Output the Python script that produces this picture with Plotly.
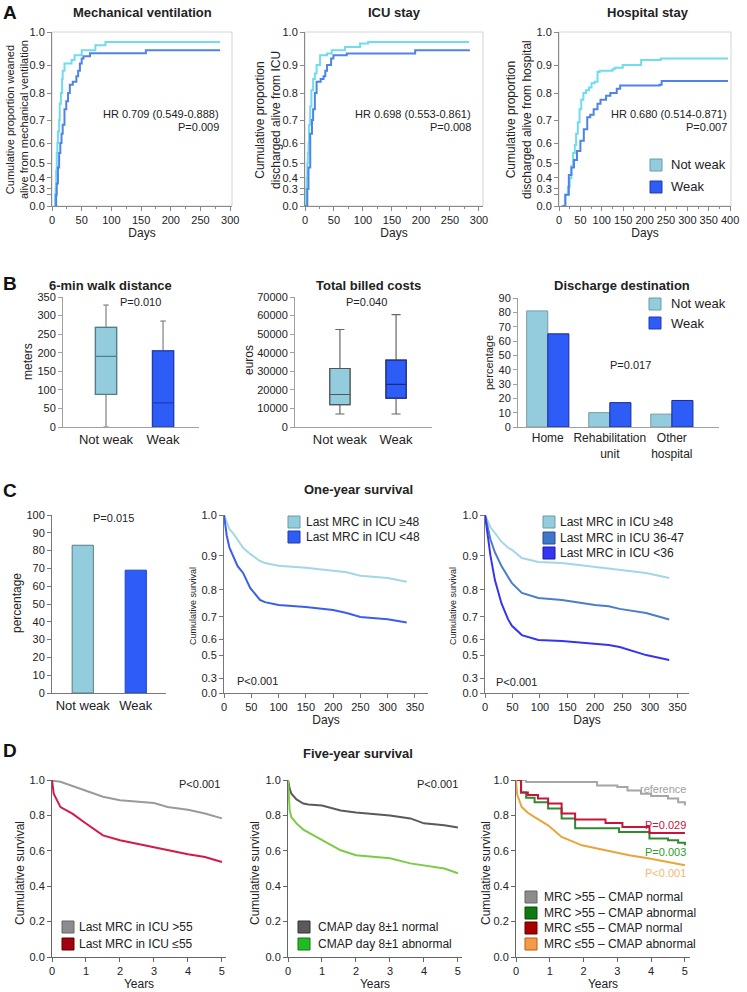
import plotly.graph_objects as go
import numpy as np

W, H = 747, 992
FONT = "Liberation Sans, Arial, sans-serif"

# ---- A: time-to-event curves (days, cumulative proportion) ----
groups = ["Not weak", "Weak"]

mv_days_nw = [4, 5, 6, 7, 8, 9, 10, 12, 13, 15, 17, 18, 21, 33, 38, 50, 73, 90, 283]
mv_nw = [0, 0.2, 0.3, 0.45, 0.55, 0.6, 0.65, 0.7, 0.76, 0.8, 0.85, 0.88, 0.905, 0.915, 0.93, 0.945, 0.96, 0.97, 0.97]
mv_days_w = [5, 7, 8, 10, 12, 14, 16, 18, 21, 24, 27, 30, 35, 41, 44, 47, 50, 53, 64, 158, 283]
mv_w = [0, 0.2, 0.35, 0.47, 0.55, 0.6, 0.64, 0.68, 0.74, 0.77, 0.8, 0.83, 0.84, 0.86, 0.88, 0.905, 0.92, 0.927, 0.936, 0.945, 0.945]

icu_days_nw = [1, 2, 3, 4, 5, 6, 7, 9, 11, 14, 17, 20, 26, 38, 46, 69, 95, 109, 283]
icu_nw = [0, 0.3, 0.4, 0.5, 0.55, 0.6, 0.68, 0.75, 0.81, 0.85, 0.87, 0.9, 0.93, 0.935, 0.945, 0.955, 0.965, 0.97, 0.97]
icu_days_w = [0, 4, 6, 9, 12, 14, 17, 20, 27, 32, 35, 38, 45, 49, 72, 190, 283]
icu_w = [0, 0.3, 0.47, 0.64, 0.7, 0.74, 0.8, 0.84, 0.85, 0.86, 0.88, 0.9, 0.92, 0.93, 0.935, 0.945, 0.947]

hosp_days_nw = [6, 14, 21, 25, 29, 33, 37, 40, 44, 48, 52, 57, 63, 70, 76, 83, 90, 95, 125, 130, 149, 192, 238, 395]
hosp_nw = [0, 0.2, 0.32, 0.4, 0.48, 0.55, 0.59, 0.64, 0.69, 0.74, 0.775, 0.8, 0.81, 0.82, 0.835, 0.84, 0.875, 0.88, 0.885, 0.89, 0.9, 0.915, 0.92, 0.92]
hosp_days_w = [8, 15, 23, 29, 35, 42, 50, 58, 66, 73, 81, 90, 97, 110, 120, 135, 143, 235, 240, 395]
hosp_w = [0, 0.2, 0.42, 0.47, 0.515, 0.56, 0.61, 0.66, 0.71, 0.72, 0.74, 0.76, 0.775, 0.79, 0.8, 0.815, 0.827, 0.83, 0.843, 0.843]

hr_text = ["HR 0.709 (0.549-0.888)", "HR 0.698 (0.553-0.861)", "HR 0.680 (0.514-0.871)"]
hr_p = ["P=0.009", "P=0.008", "P=0.007"]

# ---- B ----
walk_low = [0, 0]
walk_q1 = [88, 0]
walk_med = [190, 65]
walk_q3 = [268, 205]
walk_high = [328, 285]

cost_low = [7000, 7000]
cost_q1 = [12000, 15500]
cost_med = [17500, 23000]
cost_q3 = [31500, 36000]
cost_high = [52500, 60500]

dest_labels = ["Home", "Rehabilitation<br>unit", "Other<br>hospital"]
dest_nw = [81, 10, 9]
dest_w = [65, 17, 18.5]

# ---- C ----
surv1y_pct = [83, 69]

c2_days = [0, 5, 10, 17, 25, 35, 48, 66, 75, 100, 150, 200, 225, 250, 300, 335]
c2_hi = [1.0, 0.98, 0.965, 0.955, 0.94, 0.92, 0.905, 0.885, 0.879, 0.871, 0.865, 0.857, 0.852, 0.842, 0.835, 0.824]
c2_lo = [1.0, 0.95, 0.92, 0.9, 0.87, 0.85, 0.806, 0.763, 0.755, 0.744, 0.737, 0.726, 0.715, 0.70, 0.69, 0.675]
c2_names = ["Last MRC in ICU ≥48", "Last MRC in ICU <48"]

c3_days = [0, 5, 10, 18, 30, 42, 49, 67, 97, 140, 200, 225, 245, 293, 335]
c3_hi = [1.0, 0.985, 0.97, 0.956, 0.935, 0.92, 0.915, 0.894, 0.882, 0.879, 0.868, 0.863, 0.859, 0.85, 0.835]
c3_mid = [1.0, 0.97, 0.94, 0.909, 0.87, 0.838, 0.82, 0.789, 0.77, 0.763, 0.744, 0.74, 0.73, 0.715, 0.689]
c3_lo = [1.0, 0.95, 0.9, 0.829, 0.75, 0.689, 0.66, 0.618, 0.594, 0.588, 0.569, 0.563, 0.55, 0.5, 0.457]
c3_names = ["Last MRC in ICU ≥48", "Last MRC in ICU 36-47", "Last MRC in ICU <36"]

# ---- D ----
d1_years = [0, 0.05, 0.25, 0.42, 0.6, 1.0, 1.4, 1.5, 2.0, 3.0, 3.4, 4.0, 4.5, 5.0]
d1_hi = [1.0, 0.995, 0.99, 0.978, 0.965, 0.941, 0.913, 0.905, 0.885, 0.87, 0.847, 0.832, 0.811, 0.783]
d1_lo = [1.0, 0.923, 0.847, 0.83, 0.81, 0.754, 0.70, 0.687, 0.66, 0.621, 0.603, 0.58, 0.565, 0.537]
d1_names = ["Last MRC in ICU >55", "Last MRC in ICU ≤55"]

d2_years = [0, 0.05, 0.1, 0.25, 0.45, 0.6, 1.0, 1.55, 2.0, 3.0, 3.6, 4.0, 4.6, 5.0]
d2_norm = [1.0, 0.95, 0.923, 0.89, 0.867, 0.862, 0.856, 0.828, 0.817, 0.8, 0.783, 0.755, 0.745, 0.732]
d2_abn = [1.0, 0.828, 0.79, 0.755, 0.72, 0.704, 0.66, 0.603, 0.575, 0.558, 0.529, 0.518, 0.5, 0.473]
d2_names = ["CMAP day 8±1 normal", "CMAP day 8±1 abnormal"]

d3_ref_years = [0, 0.3, 1.4, 2.4, 3.0, 3.3, 3.7, 4.0, 4.5, 4.8, 5.0]
d3_ref = [1.0, 0.988, 0.988, 0.969, 0.96, 0.94, 0.923, 0.91, 0.895, 0.875, 0.856]
d3_red_years = [0, 0.15, 0.35, 0.65, 0.95, 1.35, 1.75, 2.65, 3.15, 3.95, 5.0]
d3_red = [1.0, 0.93, 0.915, 0.895, 0.867, 0.811, 0.777, 0.757, 0.734, 0.70, 0.70]
d3_grn_years = [0, 0.15, 0.3, 0.55, 0.95, 1.35, 1.75, 3.05, 3.95, 4.5, 4.8, 5.0]
d3_grn = [1.0, 0.93, 0.9, 0.875, 0.839, 0.783, 0.727, 0.706, 0.67, 0.66, 0.645, 0.631]
d3_org_years = [0, 0.03, 0.17, 0.35, 0.55, 0.95, 1.35, 1.95, 2.65, 3.35, 3.95, 4.5, 5.0]
d3_org = [1.0, 0.92, 0.847, 0.815, 0.79, 0.744, 0.678, 0.631, 0.603, 0.575, 0.556, 0.537, 0.518]
d3_names = ["MRC >55 – CMAP normal", "MRC >55 – CMAP abnormal", "MRC ≤55 – CMAP normal", "MRC ≤55 – CMAP abnormal"]
d3_p = ["reference", "P=0.029", "P=0.003", "P<0.001"]

# nonlinear y scales of the original (tick value -> fraction of axis height)
A_VALS = [0, 0.3, 0.4, 0.5, 0.6, 0.7, 0.8, 0.9, 1.0]
A_POS = [0, 0.098, 0.161, 0.247, 0.362, 0.494, 0.649, 0.810, 1.0]
C_VALS = [0, 0.3, 0.5, 0.6, 0.7, 0.8, 0.9, 1.0]
C_POS = [0, 0.084, 0.213, 0.303, 0.427, 0.579, 0.770, 1.0]


def warp(v, vals, pos):
    return np.interp(v, vals, pos)


def px(x):
    return x / W


def py(y):
    return 1 - y / H


NW_FILL, W_FILL = "#93CDDD", "#2D5CF6"

fig = go.Figure()
layout = {}
ann = []
shapes = []


def axes(n, l, r, t, b, xr, yr, xkw=None, ykw=None, frame=False, lc="#8a8a8a"):
    s = "" if n == 1 else str(n)
    base = dict(showline=True, linecolor=lc, linewidth=1, ticks="outside", ticklen=4,
                tickcolor=lc, showgrid=False, zeroline=False, automargin=False,
                tickfont=dict(size=11, color="#222"))
    xa = dict(base, domain=[px(l), px(r)], range=xr, anchor="y" + s)
    ya = dict(base, domain=[py(b), py(t)], range=yr, anchor="x" + s)
    xa.update(xkw or {})
    ya.update(ykw or {})
    layout["xaxis" + s] = xa
    layout["yaxis" + s] = ya
    if frame:
        shapes.append(dict(type="rect", xref="x" + s + " domain", yref="y" + s + " domain",
                           x0=0, x1=1, y0=0, y1=1, line=dict(color="#d4d4d4", width=1), layer="below"))
    return "x" + s, "y" + s


def text(x, y, s, size=12, anchor="center", color="#222", angle=0):
    ann.append(dict(x=px(x), y=py(y), xref="paper", yref="paper", text=s, showarrow=False,
                    xanchor=anchor, yanchor="middle", textangle=angle,
                    font=dict(size=size, color=color)))


def legend(labels, fills, borders, bx, ys, tx, size=13, box=12):
    for lab, f, bc, y in zip(labels, fills, borders, ys):
        shapes.append(dict(type="rect", xref="paper", yref="paper", x0=px(bx), x1=px(bx + box),
                           y0=py(y + box / 2), y1=py(y - box / 2), fillcolor=f,
                           line=dict(color=bc, width=1)))
        text(tx, y, lab, size=size, anchor="left")


def line(xa, ya, x, y, color, shape="linear", width=2):
    fig.add_trace(go.Scatter(x=x, y=y, mode="lines", line=dict(color=color, width=width, shape=shape),
                             xaxis=xa, yaxis=ya, showlegend=False, hoverinfo="skip"))


# ---------------- Row A ----------------
a_tickvals = list(warp([0, 0.2], A_VALS, A_POS)) + A_POS[1:]
a_ytick = dict(tickvals=a_tickvals, ticktext=["0.0", "", "0.3", "0.4", "0.5", "0.6", "0.7", "0.8", "0.9", "1.0"])
days_title = dict(title=dict(text="Days", font=dict(size=12), standoff=1))
a_panels = [
    (1, 52, 232, [0, 303], mv_days_nw, mv_nw, mv_days_w, mv_w, list(range(0, 301, 50)), 221),
    (2, 305, 483, [0, 307], icu_days_nw, icu_nw, icu_days_w, icu_w, list(range(0, 301, 50)), 473),
    (3, 559, 731, [0, 402], hosp_days_nw, hosp_nw, hosp_days_w, hosp_w, list(range(0, 401, 50)), 729),
]
for i, (n, l, r, xr, dn, vn, dw, vw, xt, hx) in enumerate(a_panels):
    xa, ya = axes(n, l, r, 32, 206, xr, [0, 1.0],
                  xkw=dict(tickvals=xt, minor=dict(ticks="outside", ticklen=2, dtick=25, tickcolor="#8a8a8a"), **days_title),
                  ykw=a_ytick, frame=True)
    line(xa, ya, dn, warp(vn, A_VALS, A_POS), "#6FDCEF", "hv")
    line(xa, ya, dw, warp(vw, A_VALS, A_POS), "#4F84E6", "hv")
    text(hx, 114, hr_text[i], size=11, anchor="right")
    text(hx, 127, hr_p[i], size=11, anchor="right")

text(142, 13, "<b>Mechanical ventilation</b>", size=13)
text(394, 13, "<b>ICU stay</b>", size=13)
text(648, 13, "<b>Hospital stay</b>", size=13)
text(17, 120, "Cumulative proportion weaned<br>alive from mechanical ventilation", size=11, angle=-90)
text(268, 120, "Cumulative proportion<br>discharged alive from ICU", size=12, angle=-90)
text(519, 120, "Cumulative proportion<br>discharged alive from hospital", size=12, angle=-90)
legend(groups, [NW_FILL, W_FILL], ["#6A9AA8", "#1E3DB0"], 650, [165, 187], 669, size=13)

# ---------------- Row B ----------------
cat_x = dict(tickvals=[0, 1], ticktext=groups, ticks="", tickangle=0, tickfont=dict(size=13, color="#222"))
xa, ya = axes(4, 63, 199, 297, 427, [-0.754, 1.63], [0, 350], xkw=cat_x,
              ykw=dict(dtick=50), lc="#a0a0a0")
for k, (fill, edge) in enumerate([(NW_FILL, "#4F7F8E"), (W_FILL, "#1E3DB0")]):
    fig.add_trace(go.Box(x=[k], q1=[walk_q1[k]], median=[walk_med[k]], q3=[walk_q3[k]],
                         lowerfence=[walk_low[k]], upperfence=[walk_high[k]], width=0.37,
                         whiskerwidth=0.25, line=dict(color="#a0a0a0", width=1.6), fillcolor=fill,
                         xaxis=xa, yaxis=ya, showlegend=False, orientation="v", boxpoints=False))
    fig.add_trace(go.Box(x=[k], q1=[walk_q1[k]], median=[walk_med[k]], q3=[walk_q3[k]],
                         lowerfence=[walk_q1[k]], upperfence=[walk_q3[k]], width=0.37,
                         line=dict(color=edge, width=1.2), fillcolor=fill,
                         xaxis=xa, yaxis=ya, showlegend=False, orientation="v", boxpoints=False))

xa, ya = axes(5, 295, 432, 297, 427, [-0.80, 1.64], [0, 70000], xkw=cat_x,
              ykw=dict(dtick=10000, tickformat="d"), lc="#a0a0a0")
for k, (fill, edge) in enumerate([(NW_FILL, "#555555"), (W_FILL, "#1A2A80")]):
    fig.add_trace(go.Box(x=[k], q1=[cost_q1[k]], median=[cost_med[k]], q3=[cost_q3[k]],
                         lowerfence=[cost_low[k]], upperfence=[cost_high[k]], width=0.36,
                         whiskerwidth=0.45, line=dict(color="#666666", width=1.2), fillcolor=fill,
                         xaxis=xa, yaxis=ya, showlegend=False, orientation="v", boxpoints=False))
    fig.add_trace(go.Box(x=[k], q1=[cost_q1[k]], median=[cost_med[k]], q3=[cost_q3[k]],
                         lowerfence=[cost_q1[k]], upperfence=[cost_q3[k]], width=0.36,
                         line=dict(color=edge, width=1.2), fillcolor=fill,
                         xaxis=xa, yaxis=ya, showlegend=False, orientation="v", boxpoints=False))

xa, ya = axes(6, 518, 719, 298, 427, [-0.48, 2.76], [0, 90],
              xkw=dict(tickvals=[0, 1, 2], ticktext=dest_labels, ticks="", tickangle=0,
                       tickfont=dict(size=12, color="#222")),
              ykw=dict(dtick=10), lc="#a0a0a0")
fig.add_trace(go.Bar(x=[0, 1, 2], y=dest_nw, width=0.34, offset=-0.34, marker=dict(color=NW_FILL, line=dict(color="#7A9AA5", width=1)),
                     xaxis=xa, yaxis=ya, showlegend=False))
fig.add_trace(go.Bar(x=[0, 1, 2], y=dest_w, width=0.34, offset=0, marker=dict(color=W_FILL, line=dict(color="#1A2A9A", width=1)),
                     xaxis=xa, yaxis=ya, showlegend=False))

text(110, 285, "<b>6-min walk distance</b>", size=13)
text(368, 285, "<b>Total billed costs</b>", size=13)
text(622, 285, "<b>Discharge destination</b>", size=13)
text(28, 362, "meters", size=12, angle=-90)
text(249, 360, "euros", size=12, angle=-90)
text(489, 363, "percentage", size=11, angle=-90)
text(140, 302, "P=0.010", size=11)
text(366, 302, "P=0.040", size=11)
text(630, 365, "P=0.017", size=11)
legend(groups, [NW_FILL, W_FILL], ["#6A9AA8", "#1E3DB0"], 649, [304, 323], 669, size=13)

# ---------------- Row C ----------------
xa, ya = axes(7, 52, 166, 515, 693, [-0.58, 1.57], [0, 100], xkw=cat_x,
              ykw=dict(dtick=10), lc="#777777")
fig.add_trace(go.Bar(x=[0, 1], y=surv1y_pct, width=0.4,
                     marker=dict(color=[NW_FILL, W_FILL], line=dict(color=["#5A7A85", "#2244CC"], width=1)),
                     xaxis=xa, yaxis=ya, showlegend=False))
text(113, 518, "P=0.015", size=11)
text(17, 603, "percentage", size=12, angle=-90)

c_ytick = dict(tickvals=C_POS, ticktext=["0.0", "0.3", "0.5", "0.6", "0.7", "0.8", "0.9", "1.0"])
xa, ya = axes(8, 224, 428, 515, 693, [0, 374], [0, 1.0],
              xkw=dict(dtick=50, **days_title), ykw=c_ytick, lc="#777777")
line(xa, ya, c2_days, warp(c2_hi, C_VALS, C_POS), "#A3D6E6")
line(xa, ya, c2_days, warp(c2_lo, C_VALS, C_POS), "#3A5EEB")
text(235, 681, "P<0.001", size=11, anchor="left")
text(193, 606, "Cumulative survival", size=9, angle=-90)
legend(c2_names, ["#92CDDD", "#2D5CF6"], ["#6A9AA8", "#1E3DB0"], 288, [522, 537], 304, size=12)

xa, ya = axes(9, 485, 689, 515, 693, [0, 371], [0, 1.0],
              xkw=dict(dtick=50, **days_title), ykw=c_ytick, lc="#777777")
line(xa, ya, c3_days, warp(c3_hi, C_VALS, C_POS), "#A3D6E6")
line(xa, ya, c3_days, warp(c3_mid, C_VALS, C_POS), "#4A7ECB")
line(xa, ya, c3_days, warp(c3_lo, C_VALS, C_POS), "#3535F0")
text(494, 682, "P<0.001", size=11, anchor="left")
text(453, 606, "Cumulative survival", size=9, angle=-90)
legend(c3_names, ["#92CDDD", "#3F78C8", "#3535F5"], ["#6A9AA8", "#2A4F90", "#1A1AA0"], 543, [522, 538, 553], 558, size=12)

text(358, 490, "<b>One-year survival</b>", size=13)

# ---------------- Row D ----------------
years_title = dict(title=dict(text="Years", font=dict(size=12), standoff=0))
d_y = dict(dtick=0.2, tickformat=".1f")
xa, ya = axes(10, 52, 226, 780, 957, [0, 5.12], [0, 1.0], xkw=dict(dtick=1, **years_title), ykw=d_y, lc="#666666")
line(xa, ya, d1_years, d1_hi, "#9A9A9A")
line(xa, ya, d1_years, d1_lo, "#D41A46")
text(222, 784, "P<0.001", size=11, anchor="right")
legend(d1_names, ["#8C8C8C", "#A30010"], ["#666666", "#600000"], 62, [927, 944], 77, size=12)

xa, ya = axes(11, 288, 462, 780, 957, [0, 5.12], [0, 1.0], xkw=dict(dtick=1, **years_title), ykw=d_y, lc="#666666")
line(xa, ya, d2_years, d2_norm, "#5A5A5A")
line(xa, ya, d2_years, d2_abn, "#7CCB48")
text(460, 784, "P<0.001", size=11, anchor="right")
legend(d2_names, ["#5A5A5A", "#22BB22"], ["#333333", "#117711"], 298, [927, 944], 316, size=12)

xa, ya = axes(12, 516, 690, 780, 957, [0, 5.15], [0, 1.0], xkw=dict(dtick=1, **years_title), ykw=d_y, lc="#666666")
line(xa, ya, d3_ref_years, d3_ref, "#A6A6A6", "hv")
line(xa, ya, d3_grn_years, d3_grn, "#2E8B2E", "hv")
line(xa, ya, d3_red_years, d3_red, "#C8143C", "hv")
line(xa, ya, d3_org_years, d3_org, "#E8A53A")
for lab, yy, col in zip(d3_p, [789, 825, 852, 873], ["#A0A0A0", "#C8143C", "#2E9B2E", "#F5B870"]):
    text(688, yy, lab, size=11, anchor="right", color=col)
legend(d3_names, ["#8C8C8C", "#0F7A0F", "#A80000", "#F59A45"], ["#666666", "#0A4A0A", "#600000", "#B06020"],
       525, [897, 913, 928, 944], 542, size=12)

for x0 in [20, 255, 486]:
    text(x0, 873, "Cumulative survival", size=12, angle=-90)
text(358, 753, "<b>Five-year survival</b>", size=13)

# panel letters
for lab, y in [("A", 13), ("B", 283), ("C", 491), ("D", 750)]:
    ann.append(dict(x=px(10), y=py(y), xref="paper", yref="paper", text="<b>" + lab + "</b>", showarrow=False,
                    xanchor="center", yanchor="middle", font=dict(size=19, color="#111")))

fig.update_layout(
    width=W, height=H, margin=dict(l=0, r=0, t=0, b=0),
    paper_bgcolor="white", plot_bgcolor="white",
    font=dict(family=FONT, color="#222"),
    boxmode="overlay", barmode="overlay",
    annotations=ann, shapes=shapes, showlegend=False,
    **layout,
)
# drop the default page margin so the figure sits at the window's corner
fig.write_html("out.html", config={"displayModeBar": False},
               post_script="document.body.style.margin='0';")
